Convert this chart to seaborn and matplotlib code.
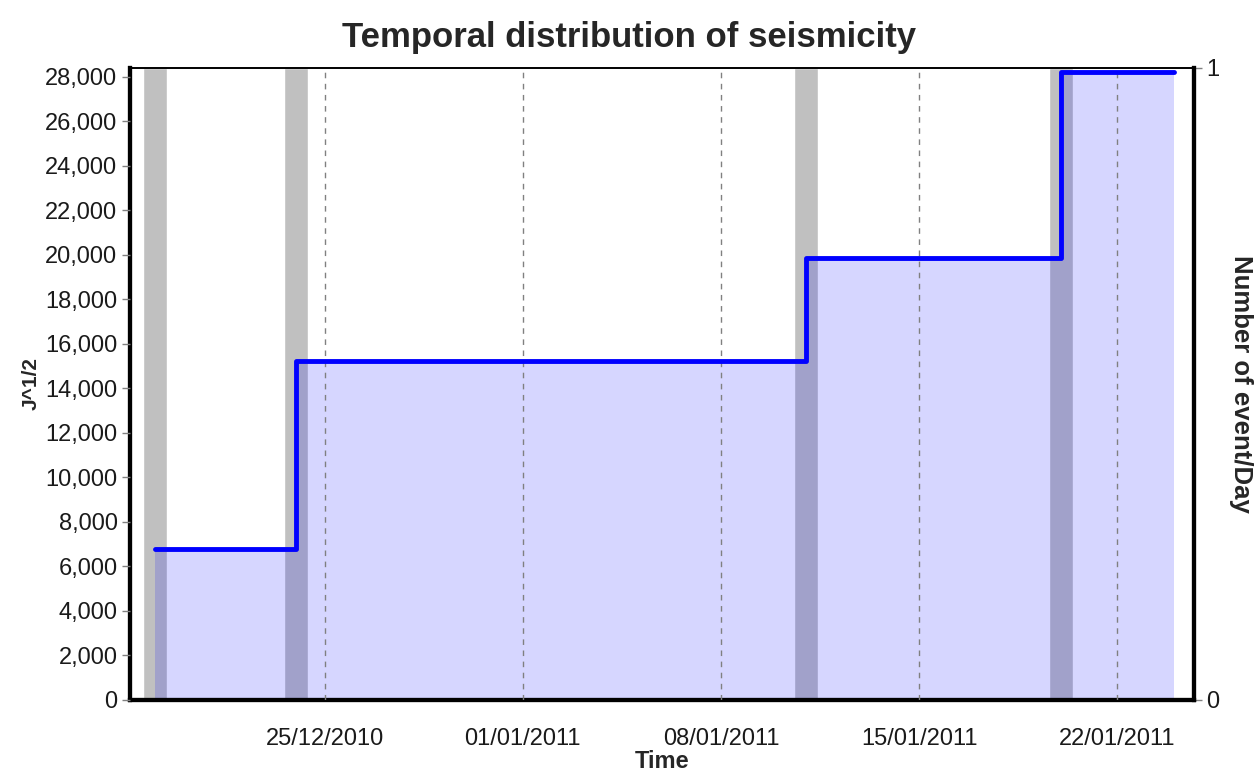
import matplotlib
matplotlib.use("Agg")
import matplotlib.pyplot as plt
import matplotlib.dates as mdates
from matplotlib.ticker import FuncFormatter
import seaborn as sns
import pandas as pd

# --- data ---
step_dates = ["2010-12-19", "2010-12-24", "2011-01-11", "2011-01-20", "2011-01-24"]
step_values = [6800, 15250, 19870, 28220, 28220]
event_dates = ["2010-12-19", "2010-12-24", "2011-01-11", "2011-01-20"]
event_counts = [1, 1, 1, 1]
x_ticks = ["2010-12-25", "2011-01-01", "2011-01-08", "2011-01-15", "2011-01-22"]
y_ticks = list(range(0, 28001, 2000))

sns.set_theme(style="white")
plt.rcParams['font.family'] = ['Liberation Sans', 'DejaVu Sans']

df = pd.DataFrame({"date": pd.to_datetime(step_dates), "value": step_values})
ev = pd.DataFrame({"date": pd.to_datetime(event_dates), "count": event_counts})

fig = plt.figure(figsize=(12.58, 7.76), dpi=100)
ax = fig.add_axes([130/1258, 1-700/776, (1194-130)/1258, (700-68)/776])
ax2 = ax.twinx()

# event bars on right axis (drawn behind)
ax2.bar(ev["date"], ev["count"], width=0.85, color="#c0c0c0", zorder=1)
ax2.set_ylim(0, 1)
ax2.set_yticks([0, 1])
ax2.set_ylabel("Number of event/Day", rotation=-90, labelpad=24,
               fontsize=18.5, fontweight="bold")

# put main axis on top
ax.set_zorder(ax2.get_zorder() + 1)
ax.patch.set_visible(False)

ax.fill_between(df["date"], df["value"], step="post", color=(0, 0, 1, 0.16),
                linewidth=0, zorder=2)
sns.lineplot(data=df, x="date", y="value", ax=ax, drawstyle="steps-post",
             color="#0000ff", linewidth=3.5, zorder=3)

ax.set_ylim(0, 28400)
ax.set_yticks(y_ticks)
ax.yaxis.set_major_formatter(FuncFormatter(lambda v, p: f"{int(v):,}"))
ax.set_xlim(pd.Timestamp("2010-12-18 03:00"), pd.Timestamp("2011-01-24 17:00"))
ax.set_xticks(pd.to_datetime(x_ticks))
ax.xaxis.set_major_formatter(mdates.DateFormatter("%d/%m/%Y"))

ax.grid(axis="x", color="#808080", linestyle=(0, (4, 4)), linewidth=1.0)
ax.grid(axis="y", visible=False)
ax.set_axisbelow(False)

for a in (ax, ax2):
    a.tick_params(axis="both", which="both", direction="out", length=6, width=1,
                  color="#808080", labelsize=17, labelcolor="#1a1a1a", pad=3)
    for s in a.spines.values():
        s.set_color("black")
    a.spines["left"].set_linewidth(3)
    a.spines["bottom"].set_linewidth(3)
    a.spines["right"].set_linewidth(3)
    a.spines["top"].set_linewidth(1.2)
ax.tick_params(axis="x", length=8, pad=12)

ax.set_xlabel("Time", fontsize=17, fontweight="bold", labelpad=0)
ax.set_ylabel("J^1/2", fontsize=15, fontweight="bold", labelpad=3)
fig.suptitle("Temporal distribution of seismicity", fontsize=25, fontweight="bold",
             x=0.5, y=1 - 37/776, va="center")

fig.savefig("out.png", dpi=100)
